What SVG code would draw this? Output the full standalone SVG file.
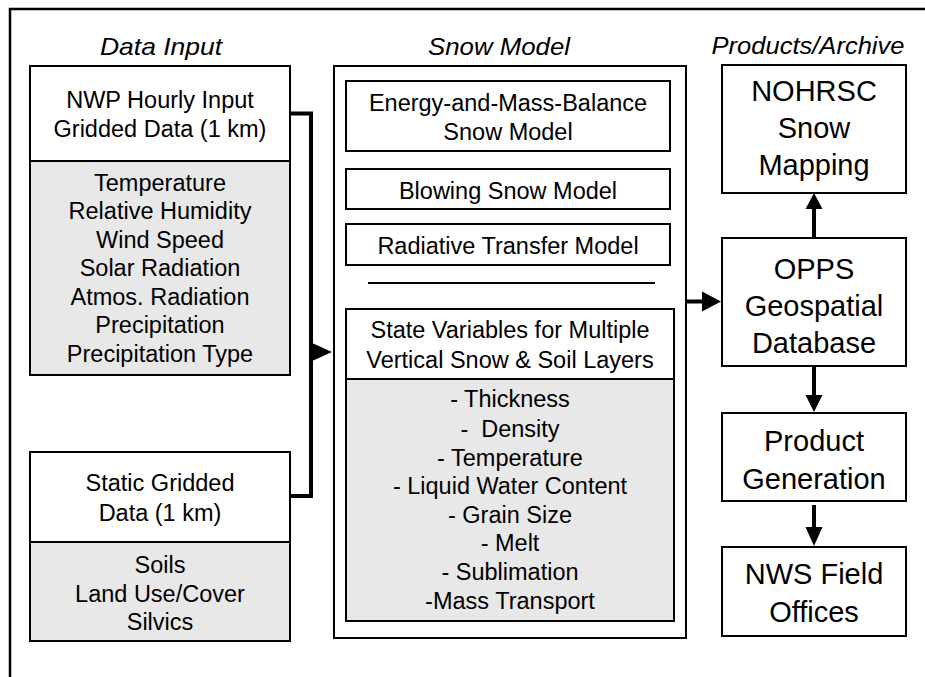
<svg xmlns="http://www.w3.org/2000/svg" width="925" height="677" viewBox="0 0 925 677">
<style>
  text { font-family: "Liberation Sans", Arial, sans-serif; fill: #000; text-anchor: middle; }
  .t { font-size: 23.5px; }
  .big { font-size: 29px; }
  .hdr { font-size: 24px; font-style: italic; }
  .box { fill: #fff; stroke: #000; stroke-width: 2; }
  .gray { fill: #e8e8e8; stroke: #000; stroke-width: 2; }
  .frame { fill: none; stroke: #000; stroke-width: 2.5; }
  .conn { fill: none; stroke: #000; stroke-width: 4; }
  .head { fill: #000; stroke: none; }
  .rule { stroke: #000; stroke-width: 2; }
</style>
<rect width="925" height="677" fill="#fff"/>
<rect class="frame" x="10" y="9" width="1000" height="720"/>

<g id="headers">
  <text class="hdr" x="161" y="55" textLength="122" lengthAdjust="spacingAndGlyphs">Data Input</text>
  <text class="hdr" x="499" y="55" textLength="142" lengthAdjust="spacingAndGlyphs">Snow Model</text>
  <text class="hdr" x="808" y="54" textLength="193" lengthAdjust="spacingAndGlyphs">Products/Archive</text>
</g>

<g id="nwp-input">
  <rect class="box" x="30" y="66" width="260" height="95"/>
  <rect class="gray" x="30" y="161" width="260" height="214"/>
  <text class="t" x="160" y="108">NWP Hourly Input</text>
  <text class="t" x="160" y="137">Gridded Data (1 km)</text>
  <text class="t" x="160" y="190.5">Temperature</text>
  <text class="t" x="160" y="219">Relative Humidity</text>
  <text class="t" x="160" y="247.5">Wind Speed</text>
  <text class="t" x="160" y="276">Solar Radiation</text>
  <text class="t" x="160" y="304.5">Atmos. Radiation</text>
  <text class="t" x="160" y="333">Precipitation</text>
  <text class="t" x="160" y="361.5">Precipitation Type</text>
</g>

<g id="static-input">
  <rect class="box" x="30" y="452" width="260" height="90"/>
  <rect class="gray" x="30" y="542" width="260" height="99"/>
  <text class="t" x="160" y="491">Static Gridded</text>
  <text class="t" x="160" y="521">Data (1 km)</text>
  <text class="t" x="160" y="573">Soils</text>
  <text class="t" x="160" y="601.5">Land Use/Cover</text>
  <text class="t" x="160" y="630">Silvics</text>
</g>

<g id="snow-model">
  <rect class="box" x="334" y="66" width="352" height="572"/>
  <g id="energy-balance">
    <rect class="box" x="346" y="81" width="324" height="70"/>
    <text class="t" x="508" y="111">Energy-and-Mass-Balance</text>
    <text class="t" x="508" y="140">Snow Model</text>
  </g>
  <g id="blowing-snow">
    <rect class="box" x="346" y="169" width="324" height="40"/>
    <text class="t" x="508" y="198.5">Blowing Snow Model</text>
  </g>
  <g id="radiative-transfer">
    <rect class="box" x="346" y="224" width="324" height="41"/>
    <text class="t" x="508" y="253.5">Radiative Transfer Model</text>
  </g>
  <line class="rule" x1="368" y1="283" x2="655" y2="283"/>
  <g id="state-variables">
    <rect class="box" x="346" y="309" width="328" height="70"/>
    <rect class="gray" x="346" y="379" width="328" height="242"/>
    <text class="t" x="510" y="338">State Variables for Multiple</text>
    <text class="t" x="510" y="368">Vertical Snow &amp; Soil Layers</text>
    <text class="t" x="510" y="407">- Thickness</text>
    <text class="t" x="510" y="437" xml:space="preserve">-  Density</text>
    <text class="t" x="510" y="466">- Temperature</text>
    <text class="t" x="510" y="494">- Liquid Water Content</text>
    <text class="t" x="510" y="523">- Grain Size</text>
    <text class="t" x="510" y="551">- Melt</text>
    <text class="t" x="510" y="580">- Sublimation</text>
    <text class="t" x="510" y="608.5">-Mass Transport</text>
  </g>
</g>

<g id="nohrsc">
  <rect class="box" x="722" y="65" width="184" height="128"/>
  <text class="big" x="814" y="101">NOHRSC</text>
  <text class="big" x="814" y="138">Snow</text>
  <text class="big" x="814" y="175">Mapping</text>
</g>

<g id="opps">
  <rect class="box" x="722" y="238" width="184" height="128"/>
  <text class="big" x="814" y="279">OPPS</text>
  <text class="big" x="814" y="316">Geospatial</text>
  <text class="big" x="814" y="353">Database</text>
</g>

<g id="product-generation">
  <rect class="box" x="722" y="413" width="184" height="88"/>
  <text class="big" x="814" y="451">Product</text>
  <text class="big" x="814" y="489">Generation</text>
</g>

<g id="nws-field-offices">
  <rect class="box" x="722" y="547" width="184" height="89"/>
  <text class="big" x="814" y="584">NWS Field</text>
  <text class="big" x="814" y="622">Offices</text>
</g>

<g id="connectors">
  <path class="conn" d="M290,113.5 H311 V496 H290"/>
  <polygon class="head" points="311,342.5 332,352 311,361.5"/>
  <line class="conn" x1="687" y1="301.5" x2="703" y2="301.5"/>
  <polygon class="head" points="702,291.5 721,301.5 702,311.5"/>
  <line class="conn" x1="814" y1="237" x2="814" y2="208"/>
  <polygon class="head" points="805.5,209 814,193 822.5,209"/>
  <line class="conn" x1="814" y1="367" x2="814" y2="396"/>
  <polygon class="head" points="805.5,395 814,412 822.5,395"/>
  <line class="conn" x1="814" y1="505" x2="814" y2="528"/>
  <polygon class="head" points="805.5,527 814,546 822.5,527"/>
</g>
</svg>
